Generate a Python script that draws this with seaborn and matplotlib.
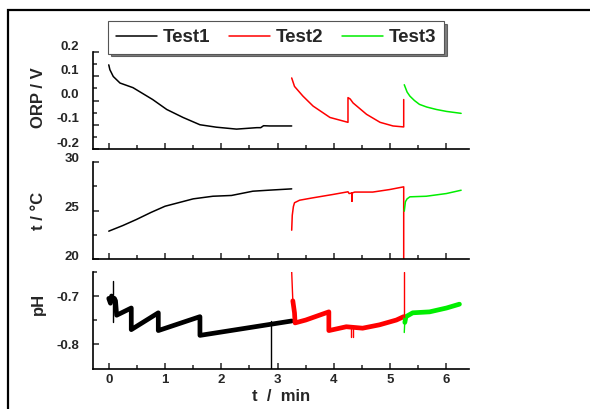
import seaborn as sns
import matplotlib.pyplot as plt
import matplotlib.ticker as mticker
from matplotlib.patches import Rectangle
from matplotlib.transforms import ScaledTranslation

# ORP / V
orp1_t = [0.0, 0.02, 0.08, 0.2, 0.43, 0.78, 1.03, 1.32, 1.62, 1.91, 2.27, 2.63, 2.70, 2.75, 2.86, 3.25]
orp1_v = [0.147, 0.127, 0.099, 0.072, 0.053, 0.004, -0.037, -0.07, -0.10, -0.11, -0.118, -0.112, -0.112, -0.104, -0.105, -0.105]
orp2_t = [3.25, 3.3, 3.45, 3.63, 3.93, 4.25, 4.25, 4.29, 4.34, 4.58, 4.82, 5.05, 5.24, 5.24]
orp2_v = [0.093, 0.058, 0.018, -0.023, -0.07, -0.09, 0.012, 0.006, -0.01, -0.057, -0.09, -0.105, -0.109, 0.004]
orp3_t = [5.25, 5.3, 5.35, 5.43, 5.52, 5.65, 5.82, 6.0, 6.26]
orp3_v = [0.065, 0.035, 0.018, 0.0, -0.016, -0.027, -0.037, -0.045, -0.053]

# temperature
tmp1_t = [0.0, 0.25, 0.49, 0.75, 1.0, 1.5, 1.85, 2.18, 2.56, 2.86, 3.25]
tmp1_v = [22.87, 23.45, 24.07, 24.8, 25.44, 26.2, 26.47, 26.55, 26.99, 27.1, 27.23]
tmp2_t = [3.25, 3.26, 3.28, 3.3, 3.39, 3.62, 3.98, 4.25, 4.27, 4.32, 4.32, 4.32, 4.37, 4.69, 4.99, 5.24, 5.24]
tmp2_v = [22.97, 24.5, 25.4, 25.8, 26.06, 26.3, 26.65, 26.93, 26.75, 26.8, 25.96, 26.8, 26.9, 26.9, 27.16, 27.44, 19.5]
tmp3_t = [5.25, 5.27, 5.3, 5.35, 5.64, 6.0, 6.26]
tmp3_v = [24.93, 25.9, 26.2, 26.41, 26.47, 26.75, 27.09]

# pH (noisy band drawn thick, spikes thin)
ph1_t = [0.0, 0.03, 0.05, 0.08, 0.1, 0.12, 0.14, 0.4, 0.4, 0.88, 0.88, 1.62, 1.62, 3.25]
ph1_v = [-0.705, -0.715, -0.70, -0.71, -0.705, -0.71, -0.74, -0.725, -0.770, -0.735, -0.772, -0.743, -0.782, -0.752]
ph2_t = [3.27, 3.3, 3.31, 3.5, 3.91, 3.91, 4.22, 4.51, 4.81, 5.11, 5.24]
ph2_v = [-0.71, -0.735, -0.756, -0.75, -0.733, -0.772, -0.764, -0.767, -0.76, -0.75, -0.743]
ph3_t = [5.26, 5.28, 5.4, 5.7, 6.0, 6.23]
ph3_v = [-0.755, -0.743, -0.735, -0.733, -0.725, -0.717]
spikes = [
    ([0.08, 0.08], [-0.668, -0.754], "black"),
    ([2.89, 2.89], [-0.752, -0.852], "black"),
    ([3.25, 3.27], [-0.65, -0.71], "red"),
    ([4.30, 4.30], [-0.766, -0.785], "red"),
    ([4.34, 4.34], [-0.766, -0.785], "red"),
    ([5.24, 5.24], [-0.743, -0.65], "red"),
    ([5.25, 5.26], [-0.776, -0.75], "#00ee00"),
]

colors = ["black", "red", "#00ee00"]
labels = ["Test1", "Test2", "Test3"]

sns.set_style("ticks")
plt.rcParams["font.family"] = ["Liberation Sans", "DejaVu Sans"]
plt.rcParams["font.weight"] = "bold"
plt.rcParams["axes.unicode_minus"] = False

fig = plt.figure(figsize=(5.9, 4.09), dpi=100)
W, H = 590, 409
left, right = 93 / W, 469 / W
ax1 = fig.add_axes([left, 1 - 149 / H, right - left, 97 / H])
ax2 = fig.add_axes([left, 1 - 259 / H, right - left, 97 / H])
ax3 = fig.add_axes([left, 1 - 369 / H, right - left, 97 / H])

for t, v, c, lab in zip([orp1_t, orp2_t, orp3_t], [orp1_v, orp2_v, orp3_v], colors, labels):
    sns.lineplot(x=t, y=v, ax=ax1, color=c, lw=1.1, sort=False, estimator=None, label=lab)
for t, v, c in zip([tmp1_t, tmp2_t, tmp3_t], [tmp1_v, tmp2_v, tmp3_v], colors):
    sns.lineplot(x=t, y=v, ax=ax2, color=c, lw=1.1, sort=False, estimator=None)
for t, v, c in zip([ph1_t, ph2_t, ph3_t], [ph1_v, ph2_v, ph3_v], colors):
    sns.lineplot(x=t, y=v, ax=ax3, color=c, lw=3.4, sort=False, estimator=None)
for t, v, c in spikes:
    sns.lineplot(x=t, y=v, ax=ax3, color=c, lw=1.0, sort=False, estimator=None)

ax1.set_ylim(-0.2, 0.2)
ax1.yaxis.set_major_locator(mticker.MultipleLocator(0.1))
ax1.yaxis.set_minor_locator(mticker.MultipleLocator(0.05))
ax1.yaxis.set_major_formatter(mticker.FormatStrFormatter("%.1f"))
ax2.set_ylim(20, 30)
ax2.yaxis.set_major_locator(mticker.MultipleLocator(5))
ax2.yaxis.set_minor_locator(mticker.MultipleLocator(2.5))
ax3.set_ylim(-0.852, -0.65)
ax3.yaxis.set_major_locator(mticker.FixedLocator([-0.8, -0.7]))
ax3.yaxis.set_minor_locator(mticker.FixedLocator([-0.75, -0.65]))
ax3.yaxis.set_major_formatter(mticker.FormatStrFormatter("%.1f"))

ax1.set_ylabel("ORP / V", fontsize=12, fontweight="bold")
ax2.set_ylabel("t / °C", fontsize=12, fontweight="bold")
ax3.set_ylabel("pH", fontsize=12, fontweight="bold")
ax3.set_xlabel("t  /  min", fontsize=12, fontweight="bold", labelpad=2)

for ax in (ax1, ax2, ax3):
    ax.set_xlim(-0.28, 6.4)
    ax.xaxis.set_major_locator(mticker.MultipleLocator(1))
    ax.xaxis.set_minor_locator(mticker.MultipleLocator(0.5))
    ax.tick_params(which="both", direction="in", width=1.1, labelsize=9.5)
    ax.tick_params(which="major", length=4)
    ax.tick_params(which="minor", length=3)
    ax.tick_params(axis="y", pad=10)
    for s in ("left", "bottom"):
        ax.spines[s].set_linewidth(1.2)
        ax.spines[s].set_color("black")
    sns.despine(ax=ax)
    ax.yaxis.set_label_coords(-0.125, 0.5)
    if ax is not ax3:
        ax.tick_params(labelbottom=False)
    if ax.get_legend():
        ax.get_legend().remove()
ax1.yaxis.set_label_coords(-0.125, 0.53)
ax3.yaxis.set_label_coords(-0.125, 0.67)

# the original software draws the y tick labels a few pixels above their ticks
for ax, dy in ((ax1, 7), (ax2, 4)):
    for lbl in ax.get_yticklabels():
        lbl.set_transform(lbl.get_transform() + ScaledTranslation(0, dy / 100, fig.dpi_scale_trans))

h, l = ax1.get_legend_handles_labels()
leg = fig.legend(h, l, loc="center", bbox_to_anchor=(276 / W, 1 - 37.5 / H), ncol=3,
                 fontsize=13.5, frameon=True, fancybox=False, shadow={"color": "black"},
                 handlelength=2.2, handletextpad=0.3, columnspacing=1.0, borderpad=0.4)
leg.get_frame().set_edgecolor("#555555")
leg.get_frame().set_linewidth(0.8)
for text in leg.get_texts():
    text.set_fontweight("bold")

fig.patches.append(Rectangle((8 / W, -0.1), 1.2, 1.1 - 10 / H, transform=fig.transFigure,
                             fill=False, edgecolor="black", lw=1.6))

fig.savefig("out.png", dpi=100)
